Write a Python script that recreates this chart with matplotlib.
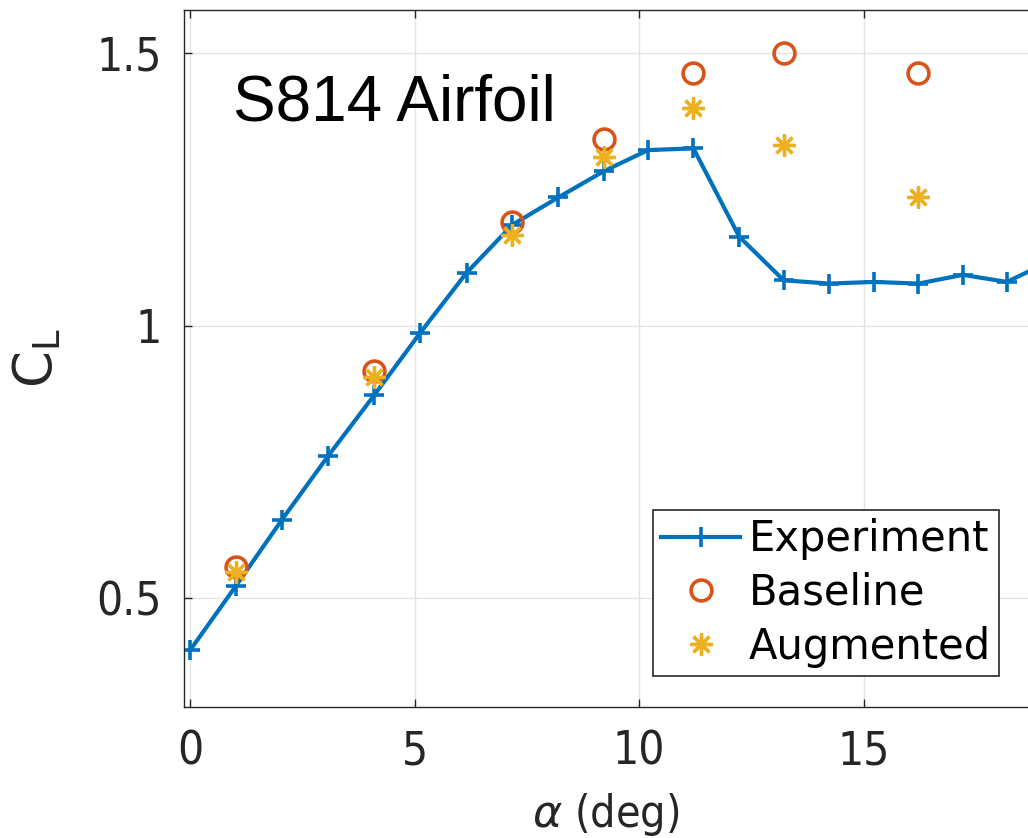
import matplotlib
matplotlib.use('Agg')
import matplotlib.pyplot as plt

# S814 airfoil lift coefficient vs angle of attack
alpha_exp = [0.0, 1.02, 2.05, 3.07, 4.10, 5.13, 6.16, 7.18, 8.20, 9.21,
             10.20, 11.21, 12.23, 13.22, 14.23, 15.23, 16.22, 17.21, 18.19, 19.20]
cl_exp = [0.404, 0.522, 0.644, 0.760, 0.872, 0.987, 1.097, 1.185, 1.235, 1.283,
          1.322, 1.325, 1.163, 1.083, 1.077, 1.080, 1.077, 1.093, 1.080, 1.120]

alpha_cfd = [1.02, 4.10, 7.18, 9.21, 11.21, 13.22, 16.22]
cl_baseline = [0.556, 0.916, 1.190, 1.342, 1.464, 1.501, 1.464]
cl_augmented = [0.547, 0.905, 1.167, 1.310, 1.400, 1.331, 1.236]

xticks = [0, 5, 10, 15]
yticks = [0.5, 1, 1.5]
yticklabels = ['0.5', '1', '1.5']

blue = '#0072BD'
orange = '#D95319'
yellow = '#EDB120'

fig = plt.figure(figsize=(10.28, 8.38), dpi=100)
ax = fig.add_axes([184/1028, 1-707/838, 1-184/1028, (707-10)/838])

ax.plot(alpha_exp, cl_exp, color=blue, lw=3, marker='+', ms=15, mew=2.6,
        label='Experiment')
ax.plot(alpha_cfd, cl_baseline, ls='none', marker='o', ms=15, mew=2.6,
        mfc='none', mec=orange, label='Baseline')
ax.plot(alpha_cfd, cl_augmented, ls='none', marker=(8, 2, 0), ms=16, mew=2.4,
        color=yellow, label='Augmented')

ax.set_xlim(-0.134, 18.66)
ax.set_ylim(0.30, 1.579)
ax.set_xticks(xticks)
ax.set_yticks(yticks)
ax.set_yticklabels(yticklabels)
ax.grid(True, color='#e4e4e4', lw=1.0)
ax.set_axisbelow(True)

ax.tick_params(direction='in', top=True, right=False, length=6, width=1,
               color='#262626', labelcolor='#262626', labelsize=33, pad=16)
for lab in ax.get_xticklabels() + ax.get_yticklabels():
    lab.set_fontstretch('condensed')
for side in ['left', 'bottom', 'top']:
    ax.spines[side].set_color('#262626')
    ax.spines[side].set_linewidth(1.0)
ax.spines['right'].set_visible(False)

ax.set_xlabel(r'$\alpha$ (deg)', fontsize=32, color='#262626', labelpad=12,
              fontstretch='condensed')
ax.set_ylabel(r'$\mathrm{C}_\mathrm{L}$', fontsize=38, color='#262626', labelpad=24)

ax.text(0.96, 1.377, 'S814 Airfoil', fontsize=46, family='Liberation Sans',
        va='baseline', ha='left')

leg = ax.legend(loc='lower right', bbox_to_anchor=(0.9656, 0.0445),
                borderaxespad=0, fontsize=30, handlelength=1.9,
                handletextpad=0.2, labelspacing=0.28, borderpad=0.2,
                fancybox=False, framealpha=1, numpoints=1)
leg.get_frame().set_edgecolor('#262626')
leg.get_frame().set_linewidth(1.2)

fig.savefig('out.png', dpi=100)
